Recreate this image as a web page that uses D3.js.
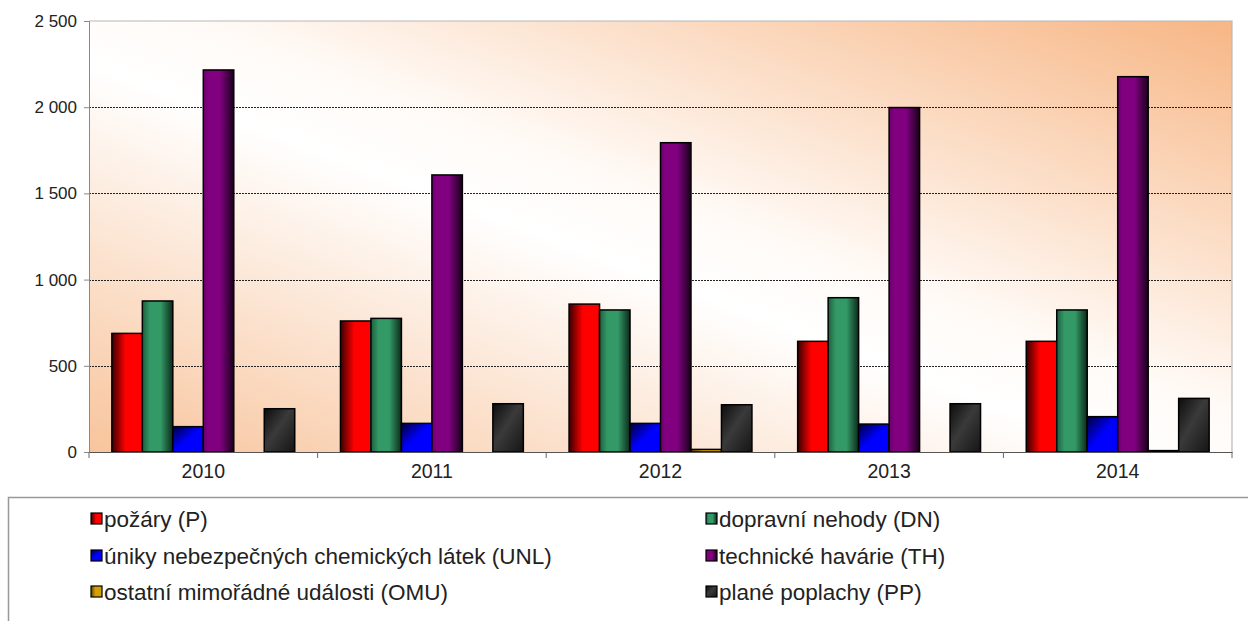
<!DOCTYPE html>
<html>
<head>
<meta charset="utf-8">
<script src="https://cdn.jsdelivr.net/npm/d3@7"></script>
<style>
  body { margin: 0; background: #fff; }
  text { font-family: "Liberation Sans", Arial, sans-serif; fill: #222; }
</style>
</head>
<body>
<div id="chart-area"></div>
<script>

var width = 1248,
    height = 621;

// Data
var years = ["2010", "2011", "2012", "2013", "2014"];
var pozary    = [688, 760, 858, 642, 642];
var dopravni  = [876, 775, 824, 895, 824];
var uniky     = [147, 166, 166, 162, 205];
var technicke = [2216, 1607, 1794, 1998, 2177];
var ostatni   = [0, 0, 15, 0, 8];
var plane     = [251, 280, 274, 280, 311];
var yTicks = [0, 500, 1000, 1500, 2000, 2500];

var seriesNames = [
    "požáry (P)",
    "dopravní nehody (DN)",
    "úniky nebezpečných chemických látek (UNL)",
    "technické havárie (TH)",
    "ostatní mimořádné události (OMU)",
    "plané poplachy (PP)"
];
var seriesValues = [pozary, dopravni, uniky, technicke, ostatni, plane];

// gradient stops per series (dark/light shading like the old Excel bars)
var barGrads = [
    {dir: [0, 0, 1, 0], stops: [[0, "#3a0000"], [0.45, "#ff0000"], [1, "#ff0000"]]},
    {dir: [0, 0, 1, 0], stops: [[0, "#1f5e3f"], [0.25, "#339966"], [0.6, "#339966"], [1, "#0b2a1b"]]},
    {dir: [0, 0, 1, 1], stops: [[0, "#000038"], [0.5, "#0000ff"], [1, "#0000ff"]]},
    {dir: [0, 0, 1, 0], stops: [[0, "#6a006a"], [0.15, "#800080"], [0.55, "#800080"], [1, "#1a001a"]]},
    {dir: [0, 0, 1, 0], stops: [[0, "#5a4400"], [0.4, "#d4a000"], [1, "#d4a000"]]},
    {dir: [0, 0, 1, 1], stops: [[0, "#0d0d0d"], [0.45, "#3a3a3a"], [1, "#151515"]]}
];

var margin = {top: 21, right: 16, bottom: 169, left: 89};
var plotW = width - margin.left - margin.right,
    plotH = height - margin.top - margin.bottom;

var svg = d3.select("#chart-area").append("svg")
    .attr("width", width)
    .attr("height", height);

var defs = svg.append("defs");

// plot background: peach bottom-left, white middle, orange top-right
var bg = defs.append("linearGradient")
    .attr("id", "bg")
    .attr("x1", 0).attr("y1", 1).attr("x2", 1).attr("y2", 0);
bg.append("stop").attr("offset", 0).attr("stop-color", "#f8c49c");
bg.append("stop").attr("offset", 0.45).attr("stop-color", "#ffffff");
bg.append("stop").attr("offset", 0.55).attr("stop-color", "#fffaf6");
bg.append("stop").attr("offset", 1).attr("stop-color", "#f7b685");

barGrads.forEach(function(g, i) {
    var lg = defs.append("linearGradient")
        .attr("id", "bar" + i)
        .attr("x1", g.dir[0]).attr("y1", g.dir[1])
        .attr("x2", g.dir[2]).attr("y2", g.dir[3]);
    g.stops.forEach(function(s) {
        lg.append("stop").attr("offset", s[0]).attr("stop-color", s[1]);
    });
});

var g = svg.append("g")
    .attr("transform", "translate(" + margin.left + "," + margin.top + ")");

// Scales
var x0 = d3.scaleBand()
    .domain(years)
    .range([0, plotW])
    .padding(0);

var x1 = d3.scaleBand()
    .domain(d3.range(seriesNames.length))
    .range([0, x0.bandwidth()])
    .paddingInner(0)
    .paddingOuter(0.75);

var y = d3.scaleLinear()
    .domain([0, 2500])
    .range([plotH, 0]);

var fmt = d3.formatLocale({decimal: ",", thousands: " ", grouping: [3], currency: ["", ""]}).format(",");

// background
g.append("rect")
    .attr("width", plotW)
    .attr("height", plotH)
    .attr("fill", "url(#bg)");

// top/right border of plot area
g.append("path")
    .attr("d", "M0,0H" + plotW + "V" + plotH)
    .attr("fill", "none")
    .attr("stroke", "#b8b8b8")
    .attr("stroke-width", 1.2);

// grid lines
g.selectAll(".grid")
    .data(yTicks.filter(function(d) { return d > 0 && d < 2500; }))
    .enter().append("line")
    .attr("class", "grid")
    .attr("x1", 0)
    .attr("x2", plotW)
    .attr("y1", function(d) { return Math.round(y(d)) + 0.5; })
    .attr("y2", function(d) { return Math.round(y(d)) + 0.5; })
    .attr("stroke", "#222")
    .attr("stroke-width", 1)
    .attr("stroke-dasharray", "2,1");

// bars
var groups = g.selectAll(".year")
    .data(years)
    .enter().append("g")
    .attr("class", "year")
    .attr("transform", function(d) { return "translate(" + x0(d) + ",0)"; });

groups.selectAll("rect")
    .data(function(d, yi) {
        return seriesValues.map(function(vals, si) { return {s: si, v: vals[yi]}; });
    })
    .enter().append("rect")
    .attr("x", function(d) { return x1(d.s); })
    .attr("width", x1.bandwidth())
    .attr("y", function(d) { return y(d.v); })
    .attr("height", function(d) { return plotH - y(d.v); })
    .attr("fill", function(d) { return "url(#bar" + d.s + ")"; })
    .attr("stroke", "#000")
    .attr("stroke-width", 1.5);

// y axis
var yAxis = g.append("g")
    .call(d3.axisLeft(y).tickValues(yTicks).tickFormat(fmt).tickSize(5).tickPadding(7));
yAxis.select(".domain").attr("stroke", "#888");
yAxis.selectAll(".tick line").attr("stroke", "#888");
yAxis.selectAll("text").style("font-size", "17px").attr("fill", "#222");

// x axis
var xAxis = g.append("g")
    .attr("transform", "translate(0," + plotH + ")")
    .call(d3.axisBottom(x0).tickSize(0).tickPadding(12));
xAxis.select(".domain").attr("stroke", "#555").attr("stroke-width", 1.2);
xAxis.selectAll("text").style("font-size", "19.5px").attr("fill", "#222");

// category separator ticks
xAxis.selectAll(".sep")
    .data(years.concat(["end"]))
    .enter().append("line")
    .attr("class", "sep")
    .attr("x1", function(d) { return d === "end" ? plotW : x0(d); })
    .attr("x2", function(d) { return d === "end" ? plotW : x0(d); })
    .attr("y1", 0)
    .attr("y2", 6)
    .attr("stroke", "#666");

// legend
var legend = svg.append("g");
legend.append("rect")
    .attr("x", 8.5)
    .attr("y", 497.5)
    .attr("width", 1300)
    .attr("height", 200)
    .attr("fill", "#fff")
    .attr("stroke", "#999")
    .attr("stroke-width", 1.5);

var legCols = [91, 706],
    legRows = [519, 556, 592];

var item = legend.selectAll(".item")
    .data(seriesNames)
    .enter().append("g")
    .attr("class", "item")
    .attr("transform", function(d, i) {
        return "translate(" + legCols[i % 2] + "," + legRows[Math.floor(i / 2)] + ")";
    });

item.append("rect")
    .attr("x", 0)
    .attr("y", -6)
    .attr("width", 11)
    .attr("height", 11)
    .attr("fill", function(d, i) { return "url(#bar" + i + ")"; })
    .attr("stroke", "#000")
    .attr("stroke-width", 1.2);

item.append("text")
    .attr("x", 13)
    .attr("dy", "0.36em")
    .style("font-size", "22.5px")
    .text(function(d) { return d; });

</script>
</body>
</html>
